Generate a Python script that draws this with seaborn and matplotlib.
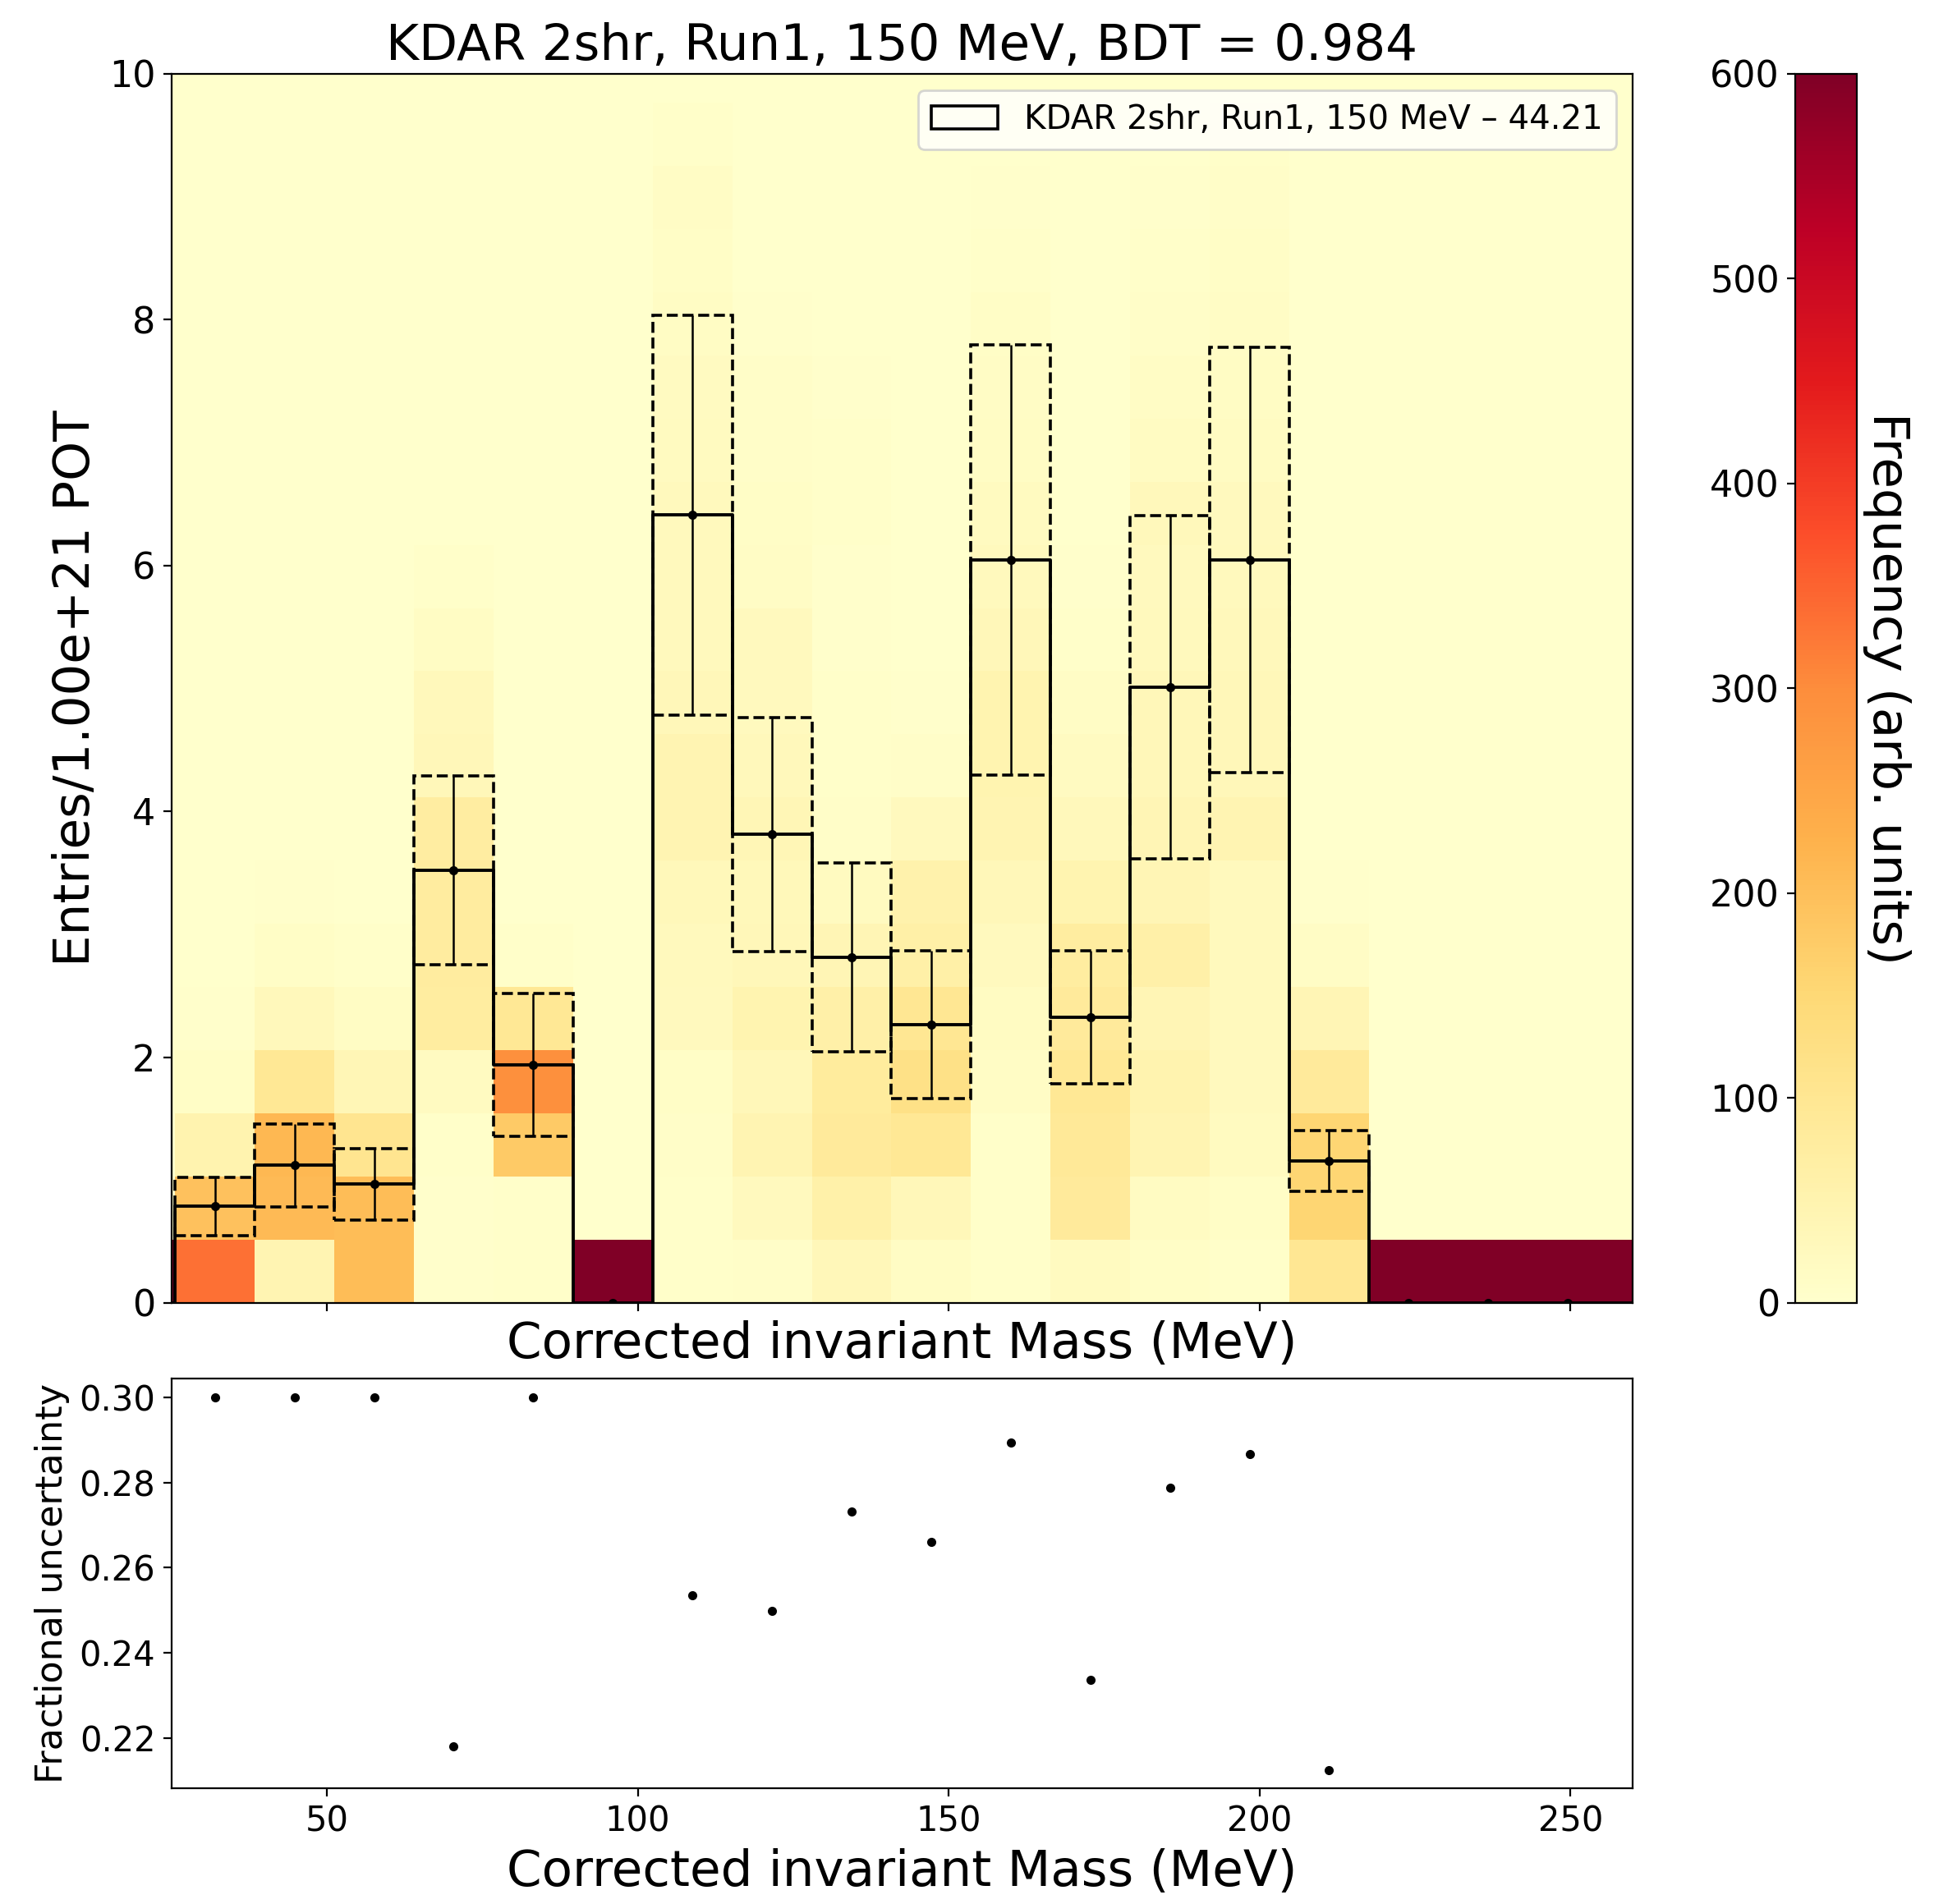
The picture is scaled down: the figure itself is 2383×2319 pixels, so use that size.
import numpy as np
import pandas as pd
import matplotlib
matplotlib.use("Agg")
import matplotlib.pyplot as plt
from matplotlib.patches import Patch
import seaborn as sns

# ---------------------------------------------------------------------------
# Binning
# ---------------------------------------------------------------------------
bin_width = 12.8                                   # MeV
mass_edges = 12.8 + bin_width * np.arange(21)      # under/overflow bin on each side
entry_step = 0.514                                 # spread-histogram bin height
entry_edges = entry_step * np.arange(21)

# ---------------------------------------------------------------------------
# Central-value prediction in the 18 analysis bins (25.6 - 256 MeV)
# ---------------------------------------------------------------------------
central_rate = [0.786, 1.120, 0.967, 3.520, 1.939, 0.0, 6.410, 3.811, 2.814,
                2.263, 6.045, 2.324, 5.012, 6.045, 1.154, 0.0, 0.0, 0.0]

frac_uncertainty = [0.300, 0.300, 0.300, 0.218, 0.300, np.nan, 0.2535, 0.2499,
                    0.2731, 0.2661, 0.2894, 0.2337, 0.2787, 0.2866, 0.2125,
                    np.nan, np.nan, np.nan]

# ---------------------------------------------------------------------------
# Number of systematic universes per (mass bin, entries bin); one list per
# mass bin, from the underflow bin to the overflow bin, rows from 0 upward
# ---------------------------------------------------------------------------
universe_counts = [
    [600] + [0] * 19,
    [335, 195, 50, 10, 3] + [0] * 15,
    [45, 210, 215, 95, 30, 10, 3] + [0] * 13,
    [205, 205, 105, 38, 15, 5] + [0] * 14,
    [4, 4, 5, 20, 76, 78, 78, 74, 35, 30, 15, 5, 2] + [0] * 7,
    [5, 5, 180, 295, 95, 5] + [0] * 14,
    [600] + [0] * 19,
    [5, 5, 8, 10, 25, 28, 32, 45, 45, 35, 28, 28, 28, 22, 20, 15, 10, 12, 6, 0],
    [8, 25, 45, 35, 48, 35, 32, 38, 30, 25, 25, 12, 10, 8, 8, 3, 0, 0, 0, 0],
    [35, 60, 85, 80, 62, 42, 22, 8, 6, 5, 4, 3, 6, 6, 3, 0, 0, 0, 0, 0],
    [15, 35, 95, 120, 100, 65, 55, 25, 8, 3] + [0] * 10,
    [5, 5, 7, 12, 17, 25, 35, 45, 48, 48, 35, 28, 22, 15, 12, 10, 6, 3, 0, 0],
    [22, 85, 90, 95, 85, 75, 48, 30, 20, 12, 5, 3] + [0] * 8,
    [10, 18, 45, 50, 42, 62, 42, 40, 35, 33, 28, 25, 30, 18, 12, 8, 5, 3, 0, 0],
    [5, 10, 22, 25, 28, 28, 28, 45, 35, 35, 30, 28, 25, 18, 15, 12, 10, 8, 5, 0],
    [100, 155, 155, 85, 40, 12, 3] + [0] * 13,
    [600] + [0] * 19,
    [600] + [0] * 19,
    [600] + [0] * 19,
    [600] + [0] * 19,
]

title = "KDAR 2shr, Run1, 150 MeV, BDT = 0.984"
sample_name = "KDAR 2shr, Run1, 150 MeV"
mass_label = "Corrected invariant Mass (MeV)"

# ---------------------------------------------------------------------------
# Derived tables
# ---------------------------------------------------------------------------
mass_centres = 0.5 * (mass_edges[:-1] + mass_edges[1:])
entry_centres = 0.5 * (entry_edges[:-1] + entry_edges[1:])

spread = pd.DataFrame({
    "mass": np.repeat(mass_centres, len(entry_centres)),
    "entries": np.tile(entry_centres, len(mass_centres)),
    "universes": np.concatenate(universe_counts),
})

rate = np.array(central_rate)
frac = np.array(frac_uncertainty)
err = np.nan_to_num(rate * frac)
centres = mass_centres[1:-1]

central = pd.DataFrame({
    "mass": mass_centres,
    "rate": np.concatenate([[0.0], rate, [0.0]]),
})
uncertainty = pd.DataFrame({"mass": centres, "frac": frac})

# ---------------------------------------------------------------------------
# Figure
# ---------------------------------------------------------------------------
fig = plt.figure(figsize=(2383 / 200, 2319 / 200), dpi=200)
ax = fig.add_axes([0.0876, 0.3157, 0.7466, 0.6455])
cax = fig.add_axes([0.9175, 0.3157, 0.0311, 0.6455])
ax2 = fig.add_axes([0.0876, 0.0606, 0.7466, 0.2153], sharex=ax)

# universe spread as a 2D histogram
sns.histplot(data=spread, x="mass", y="entries", weights="universes",
             bins=[list(mass_edges), list(entry_edges)], cmap="YlOrRd",
             vmin=0, vmax=600, thresh=None, cbar=True, cbar_ax=cax, ax=ax,
             zorder=0)

# central value as a step histogram
sns.histplot(data=central, x="mass", weights="rate", bins=list(mass_edges),
             element="step", fill=False, color="black", linewidth=1.4,
             ax=ax, zorder=3)

# uncertainty band drawn as dashed boxes
has_rate = rate > 0
ax.bar(centres[has_rate], 2 * err[has_rate], bottom=(rate - err)[has_rate],
       width=bin_width, fill=False, edgecolor="black", linestyle="--",
       linewidth=1.3, zorder=2)

ax.errorbar(centres, rate, yerr=err, fmt=".", color="black", markersize=6,
            elinewidth=0.9, capsize=0, zorder=4)

ax.set_xlim(25, 260)
ax.set_ylim(0, 10)
ax.set_yticks(np.arange(0, 11, 2))
ax.set_title(title, fontsize=22)
ax.set_xlabel(mass_label, fontsize=22)
ax.set_ylabel("Entries/1.00e+21 POT", fontsize=22)
ax.tick_params(axis="both", labelsize=16)
ax.tick_params(axis="x", labelbottom=False)

legend_label = f"{sample_name} \u2013 {rate.sum():.2f}"
ax.legend(handles=[Patch(facecolor="none", edgecolor="black", linewidth=1.3)],
          labels=[legend_label], loc="upper right", fontsize=14.5)

# colour bar: ticks on the left, title on the right
cax.yaxis.set_ticks_position("left")
cax.yaxis.set_label_position("right")
cax.set_ylabel("Frequency (arb. units)", fontsize=22, rotation=270, labelpad=24)
cax.tick_params(labelsize=16)

# fractional uncertainty panel
sns.scatterplot(data=uncertainty, x="mass", y="frac", color="black",
                marker="o", s=16, linewidth=0, ax=ax2)
ax2.set_xlabel(mass_label, fontsize=22)
ax2.set_ylabel("Fractional uncertainty", fontsize=16)
ax2.tick_params(axis="both", labelsize=15)
ax2.set_xticks([50, 100, 150, 200, 250])

fig.savefig("out.png", dpi=200)
